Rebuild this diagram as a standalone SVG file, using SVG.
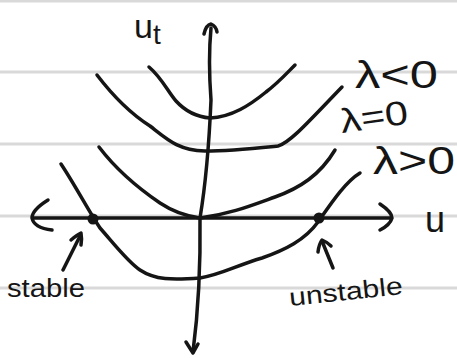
<svg xmlns="http://www.w3.org/2000/svg" width="457" height="358" viewBox="0 0 457 358">
<defs>
<style>
.rule{stroke:#d9d9d9;stroke-width:3;fill:none}
.ink{stroke:#151515;stroke-width:3.5;fill:none;stroke-linecap:round;stroke-linejoin:round}
.lbl{font-family:"Liberation Sans",Arial,sans-serif;fill:#151515}
</style>
</defs>
<rect width="457" height="358" fill="#ffffff"/>
<g id="paper-lines">
<line class="rule" x1="0" y1="1" x2="457" y2="1"/>
<line class="rule" x1="0" y1="72" x2="457" y2="72"/>
<line class="rule" x1="0" y1="144" x2="457" y2="144"/>
<line class="rule" x1="0" y1="216" x2="457" y2="216"/>
<line class="rule" x1="0" y1="288" x2="457" y2="288"/>
</g>
<g id="axes">
<path class="ink" d="M33,218 L390,218"/>
<path class="ink" d="M48,200 Q32,210 32,218 Q34,228 52,230"/>
<path class="ink" d="M380,204 Q392,212 392,218 Q390,225 380,230"/>
<path class="ink" d="M211,28 Q208,60 211,100 Q208,170 200,218 Q201,290 193,352"/>
<path class="ink" d="M204,34 Q206,25 211,24 Q216,26 217,32"/>
<path class="ink" d="M186,342 L193,353 L198,344"/>
</g>
<g id="curves">
<path class="ink" d="M149,67 C162,78 168,92 176,101 C186,112 198,117 210,118 C232,117 250,105 266,92 C278,83 286,74 295,65"/>
<path class="ink" d="M97,75 C110,92 128,112 150,126 C168,140 178,150 205,151 C230,151 258,148 278,146 C290,143 310,120 342,87"/>
<path class="ink" d="M99,147 C115,168 135,186 160,203 C172,211 185,216 200,218 C230,214 250,206 275,197 C300,188 320,175 335,150"/>
<path class="ink" d="M61,164 C75,185 88,210 100,228 C115,245 128,262 140,270 C155,280 172,280 200,278 C220,275 235,266 262,258 C285,250 305,240 318,222 C330,205 345,182 360,173"/>
</g>
<g id="equilibria">
<circle cx="93" cy="219" r="5.5" fill="#151515"/>
<circle cx="319" cy="218" r="5.5" fill="#151515"/>
</g>
<g id="pointers">
<path class="ink" d="M63,270 L80,236"/>
<path class="ink" d="M71,240 Q77,235 81,233 Q82,238 81,245"/>
<path class="ink" d="M333,268 L322,241"/>
<path class="ink" d="M318,252 Q319,244 322,240 Q327,242 331,246"/>
</g>
<g id="labels">
<text class="lbl" x="134" y="38" font-size="34">u<tspan font-size="28" dy="6">t</tspan></text>
<text class="lbl" x="425" y="232" font-size="36">u</text>
<text class="lbl" x="355" y="88" font-size="38" textLength="83" lengthAdjust="spacingAndGlyphs">λ&lt;0</text>
<text class="lbl" x="342" y="133" font-size="34" textLength="68" lengthAdjust="spacingAndGlyphs" transform="rotate(-8 342 133)">λ=0</text>
<text class="lbl" x="373" y="174" font-size="38" textLength="82" lengthAdjust="spacingAndGlyphs">λ&gt;0</text>
<text class="lbl" x="7" y="297" font-size="25" textLength="78" lengthAdjust="spacingAndGlyphs">stable</text>
<text class="lbl" x="290" y="306" font-size="25" textLength="114" lengthAdjust="spacingAndGlyphs" transform="rotate(-6 290 306)">unstable</text>
</g>
</svg>
